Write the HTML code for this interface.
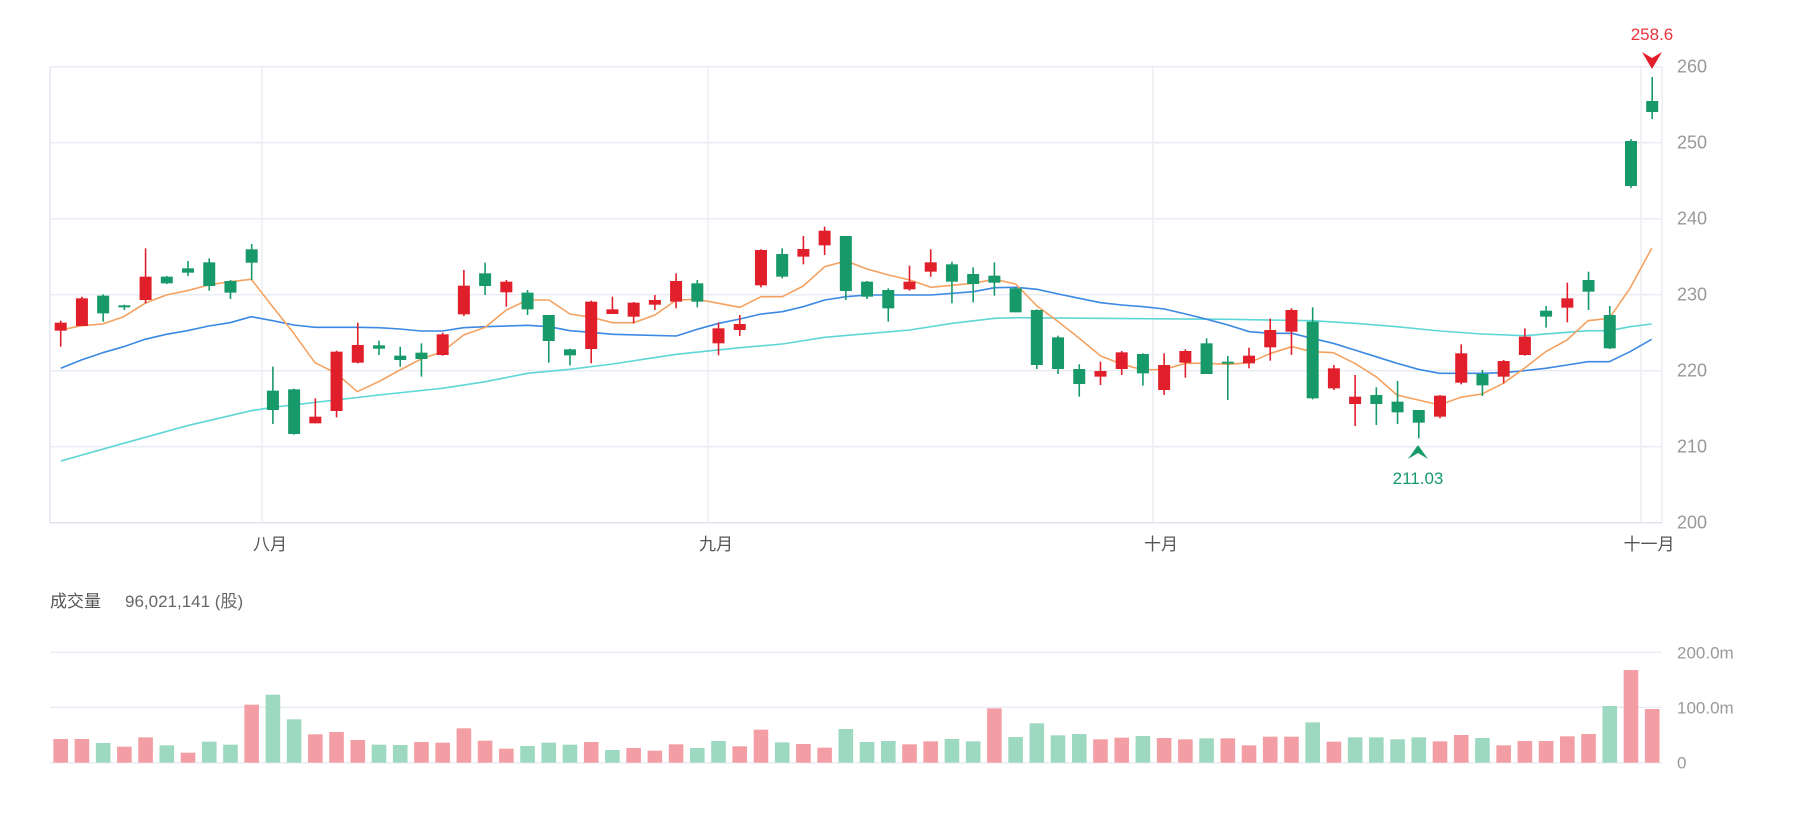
<!DOCTYPE html>
<html><head><meta charset="utf-8"><style>
html,body{margin:0;padding:0;background:#fff;}
svg{display:block;}
text{font-family:"Liberation Sans","Noto Sans CJK SC",sans-serif;}
</style></head><body>
<svg id="c" width="1818" height="816" viewBox="0 0 1818 816" xmlns="http://www.w3.org/2000/svg">
<g id="grid"></g>
<g id="mas"></g>
<g id="cand"></g>
<g id="vol"></g>
<g id="txt"></g>
</svg>
<script>
var NS="http://www.w3.org/2000/svg";
function el(p,t,a,txt){var e=document.createElementNS(NS,t);for(var k in a)e.setAttribute(k,a[k]);if(txt!==undefined)e.textContent=txt;document.getElementById(p).appendChild(e);return e;}
var L=50,R=1662,T=66.7,B=522.7;
// price grid
for(var v=200;v<=260;v+=10){var y=522.7-(v-200)*7.6;
 el('grid','line',{x1:L,x2:R,y1:y,y2:y,stroke:'#e9ecf5','stroke-width':1.5});
 el('txt','text',{x:1677,y:y+6,'font-size':18,fill:'#999'},v);}
el('grid','line',{x1:L,x2:L,y1:T,y2:B,stroke:'#e4e7ef','stroke-width':1.5});
el('grid','line',{x1:R,x2:R,y1:T,y2:B,stroke:'#eceef4','stroke-width':1.5});
el('grid','line',{x1:L,x2:R,y1:B,y2:B,stroke:'#dfe3ee','stroke-width':1.5});
var vx=[262,708,1153,1641],vl=['八月','九月','十月','十一月'];
for(var i=0;i<4;i++){el('grid','line',{x1:vx[i],x2:vx[i],y1:T,y2:B,stroke:'#eceef4','stroke-width':1.5});
 el('txt','text',{x:vx[i]+8,y:550,'font-size':17,fill:'#555','text-anchor':'middle'},vl[i]);}
// volume grid
var vg=[[652.3,'200.0m'],[707.3,'100.0m'],[762.7,'0']];
vg.forEach(function(g){el('grid','line',{x1:L,x2:R,y1:g[0],y2:g[0],stroke:'#e9ecf5','stroke-width':1.5});
 el('txt','text',{x:1677,y:g[0]+6,'font-size':17,fill:'#999'},g[1]);});
el('txt','text',{x:50,y:607,'font-size':17,fill:'#555'},'成交量');
el('txt','text',{x:125,y:607,'font-size':17,fill:'#666'},'96,021,141 (股)');
// candles: color, bodyTop, bodyBot, wickTop, wickBot (zoom y; actual = 200+z/3)
var C=[
['r',368,392,362,440],['r',295,378,290,378],['g',287,340,283,365],['g',316,322,314,330],['r',230,300,145,310],
['g',230,250,228,252],['g',205,218,183,228],['g',187,258,175,272],['g',243,278,240,297],['g',148,188,132,240],
['g',572,630,500,672],['g',568,702,566,704],['r',650,670,595,670],['r',455,633,452,652],['r',435,488,368,490],
['g',436,446,422,465],['g',467,480,440,500],['g',458,477,430,530],['r',403,465,398,467],['r',257,343,210,348],
['g',220,258,188,285],['r',245,277,240,320],['g',278,328,270,345],['g',345,423,345,488],['g',448,466,446,496],
['r',305,447,302,490],['r',328,342,290,342],['r',308,350,306,370],['r',300,314,285,330],['r',243,305,220,325],
['g',250,305,240,322],['r',385,430,368,466],['r',372,390,345,408],['r',150,256,148,262],['g',162,230,145,235],
['r',147,170,108,193],['r',92,136,80,165],['g',108,273,108,300],['g',245,290,243,297],['g',270,325,265,365],
['r',245,268,197,272],['r',187,215,148,230],['g',193,245,185,310],['g',222,252,202,307],['g',227,248,187,287],
['g',265,337,262,337],['g',330,495,328,507],['g',412,507,407,522],['g',507,552,493,590],['r',513,530,485,555],
['r',457,507,453,525],['g',462,520,460,557],['r',495,570,460,585],['r',453,488,448,533],['g',430,522,415,522],
['g',485,491,468,600],['r',467,490,443,505],['r',390,442,356,482],['r',330,395,325,465],['g',365,595,322,598],
['r',505,565,495,570],['r',590,612,525,678],['g',585,612,562,675],['g',605,637,543,672],['g',630,668,630,715],
['r',587,650,585,655],['r',460,548,433,553],['g',522,556,510,588],['r',483,530,480,550],['r',410,465,385,467],
['g',332,350,318,383],['r',295,323,248,367],['g',240,275,215,330],['g',345,445,318,447],['g',-177,-42,-183,-36],
['g',-297,-264,-369,-243]];
var RED='#e01f2b',GRN='#17996a';
function X(i){return 60.7+21.22*i;}
C.forEach(function(c,i){var x=X(i),col=c[0]=='r'?RED:GRN;
 el('cand','line',{x1:x,x2:x,y1:200+c[3]/3,y2:200+c[4]/3,stroke:col,'stroke-width':1.6});
 var t=200+c[1]/3,b=200+c[2]/3;if(b-t<2){t-=1;b+=1;}
 el('cand','rect',{x:x-6,y:t,width:12,height:b-t,fill:col});});
// volume tops (zoom y, baseline 368), colors
var V=[297,297,309,320,292,316,338,305,314,194,164,238,283,276,300,314,315,306,308,265,
302,326,318,308,314,306,330,324,332,313,324,303,319,269,307,312,323,267,306,303,
313,304,297,304,205,291,250,286,282,298,293,288,294,298,295,295,316,290,290,247,
305,292,292,298,292,304,285,294,316,303,303,289,282,198,90,207];
var VC='RRGRRGRGGRGGRRRGGRRRRRGGGRGRRRGGRRGRRGGGRRGGRGGGGRRGRRGRRRRGRGGGGRRGRRRRRGRR';
V.forEach(function(t,i){var x=X(i);el('vol','rect',{x:x-7.3,y:640+t/3,width:14.6,height:(368-t)/3,fill:VC[i]=='R'?'#f39ea4':'#9dd8c1'});});
// moving averages: [ox,zx,zy]
function pl(pts,col){var d=pts.map(function(p){return (p[0]+p[1]/3).toFixed(1)+','+(200+p[2]/3).toFixed(1);}).join(' ');
 el('mas','polyline',{points:d,fill:'none',stroke:col,'stroke-width':1.6,'stroke-linejoin':'round'});}
function seg(ox,arr){return arr.map(function(a){return [ox,a[0],a[1]];});}
var O=[].concat(
seg(40,[[62,390],[124,377],[188,372],[251,350],[315,310],[379,285],[442,272],[506,255],[570,245],[634,238],[698,320],[761,400],[825,488],[889,520],[952,575],[1016,545],[1080,510],[1143,477],[1207,455],[1271,405]]),
seg(450,[[106,382],[169,330],[233,300],[297,300],[360,342],[424,352],[488,368],[551,368],[615,345],[679,300],[742,298],[806,310],[870,322],[933,290],[997,290],[1060,258],[1124,200],[1188,183],[1251,207]]),
seg(860,[[86,225],[149,240],[213,262],[277,256],[340,250],[404,238],[467,252],[531,318],[595,365],[658,415],[722,468],[786,493],[850,510],[913,508],[977,490],[1041,490],[1104,493],[1168,488],[1232,460]]),
seg(1270,[[66,440],[126,455],[190,458],[254,490],[318,530],[381,585],[445,600],[509,615],[572,592],[636,582],[700,550],[763,505],[827,455],[891,420],[954,362],[1018,355],[1080,265],[1145,145]]));
var Bl=[].concat(
seg(40,[[62,505],[124,480],[188,458],[251,440],[315,418],[379,403],[442,392],[506,378],[570,368],[634,350],[698,362],[761,375],[825,382],[889,382],[952,382],[1016,383],[1080,387],[1143,393],[1207,393],[1271,383]]),
seg(450,[[106,380],[233,376],[297,380],[360,392],[424,397],[488,403],[679,408],[742,388],[806,370],[870,357],[933,342],[997,335],[1060,320],[1124,300],[1188,290],[1251,285]]),
seg(860,[[149,285],[213,285],[340,275],[404,263],[467,262],[531,268],[595,282],[658,295],[722,308],[786,315],[850,320],[913,327],[977,342],[1041,358],[1104,375],[1168,395],[1232,400]]),
seg(1270,[[66,400],[126,415],[190,430],[254,450],[318,470],[381,490],[445,508],[509,520],[572,520],[636,520],[700,518],[763,512],[827,505],[891,495],[954,485],[1018,485],[1080,455],[1145,418]]));
var Cy=[].concat(
seg(40,[[62,783],[251,730],[442,677],[634,632],[698,622],[1016,585],[1207,565]]),
seg(450,[[106,545],[233,520],[360,508],[488,492],[679,463],[870,443],[997,432],[1124,412]]),
seg(860,[[149,390],[277,370],[404,355],[467,353],[1104,358]]),
seg(1270,[[126,362],[254,370],[381,380],[509,393],[636,402],[763,407],[891,397],[954,392],[1018,392],[1080,380],[1145,372]]));
pl(Cy,'#5fd6d6');pl(Bl,'#3b89e3');pl(O,'#f4a261');
// markers
el('txt','text',{x:1652,y:40,'font-size':17,fill:'#e8333d','text-anchor':'middle'},'258.6');
el('txt','path',{d:'M1642,52 L1652,58 L1662,52 L1652,69 Z',fill:'#e01f2b'});
el('txt','path',{d:'M1408,459 L1418,453 L1428,459 L1418,445 Z',fill:'#17996a'});
el('txt','text',{x:1418,y:484,'font-size':17,fill:'#17996a','text-anchor':'middle'},'211.03');
</script>
</body></html>
